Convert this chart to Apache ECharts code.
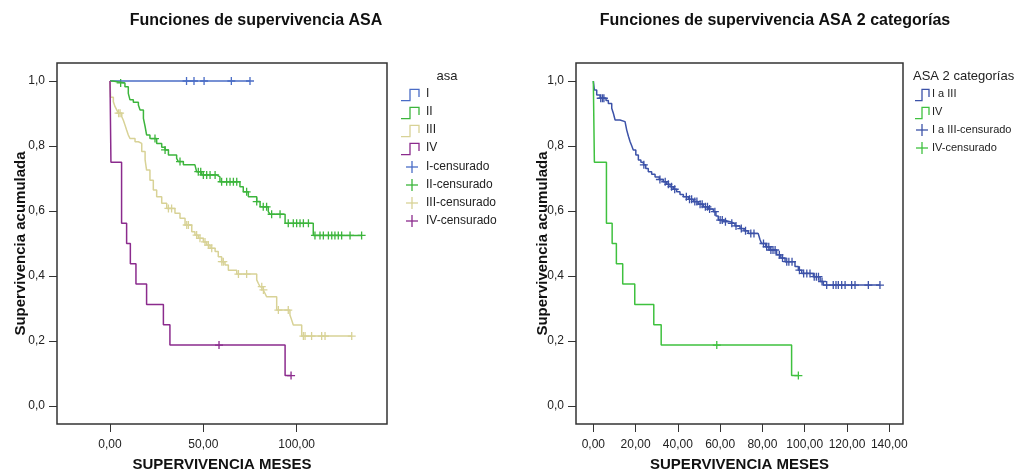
<!DOCTYPE html>
<html lang="es">
<head>
  <meta charset="UTF-8">
  <title>Funciones de supervivencia ASA</title>
  <script src="https://cdn.jsdelivr.net/npm/echarts@6/dist/echarts.min.js"></script>
  <style>
    html, body { margin: 0; padding: 0; overflow: hidden; background: #fff; }
    #app { position: absolute; left: 0; top: 0; width: 1019px; height: 469px; }
  </style>
</head>
<body>
  <div id="app"></div>
  <script>
    // curvas Kaplan-Meier: [meses, supervivencia acumulada] tras cada evento
    var asaI = [[0, 1]]
    var asaICens = [41, 45, 50.4, 65, 75]

    var asaII = [[0, 1], [1.4, 0.994], [8.0, 0.982], [9.8, 0.962], [10.7, 0.942], [12.5, 0.935], [15.2, 0.926],
      [16.1, 0.911], [17.9, 0.885], [18.8, 0.860], [19.6, 0.834], [21.4, 0.823], [25.0, 0.808], [27.7, 0.796],
      [29.5, 0.788], [31.3, 0.772], [35.7, 0.762], [36.6, 0.752], [39.3, 0.742], [45.5, 0.736], [46.4, 0.721],
      [49.1, 0.711], [57.1, 0.705], [58.9, 0.690], [69.6, 0.675], [71.4, 0.659], [74.1, 0.644], [78.6, 0.629],
      [80.4, 0.613], [84.8, 0.598], [85.7, 0.590], [93.8, 0.562], [108.9, 0.525]]
    var asaIICens = [5.7, 24.1, 29.5, 37.5, 47.3, 48.6, 50, 51.8, 53.6, 56.3, 59.8, 62.5, 64.3, 66.1, 67.9, 73.2,
      78.6, 82.1, 83.9, 86.6, 91.1, 95.5, 98.2, 100, 101.8, 103.6, 106.3, 109.8, 112.5, 114.3, 117, 118.8, 120.5,
      122.3, 124.1, 128.6, 134.8]

    var asaIII = [[0, 1], [0.3, 0.95], [1.8, 0.936], [2.7, 0.921], [3.6, 0.911], [4.5, 0.901], [6.3, 0.890],
      [7.1, 0.880], [8.0, 0.865], [8.9, 0.849], [9.8, 0.834], [10.7, 0.823], [13.4, 0.813], [15.2, 0.808],
      [17.0, 0.783], [18.8, 0.757], [19.6, 0.726], [21.4, 0.695], [23.2, 0.665], [25.0, 0.644], [27.7, 0.624],
      [30.4, 0.608], [34.8, 0.593], [37.5, 0.578], [40.2, 0.557], [43.8, 0.536], [45.5, 0.526], [47.3, 0.516],
      [50.0, 0.505], [51.8, 0.495], [53.6, 0.485], [56.3, 0.475], [58.0, 0.459], [59.8, 0.444], [61.6, 0.434],
      [63.4, 0.418], [67.9, 0.406], [78.6, 0.388], [79.5, 0.377], [80.4, 0.367], [82.1, 0.357], [83.0, 0.347],
      [83.9, 0.336], [89.3, 0.295], [96.4, 0.280], [97.3, 0.265], [98.2, 0.249], [102.7, 0.215]]
    var asaIIICens = [4.6, 5.4, 31.3, 33, 41.1, 42, 46.4, 48.2, 50.9, 52.7, 54.5, 59.9, 60.7, 68.8, 73.2, 81.3,
      82.2, 90.2, 95.5, 103.6, 104.5, 108, 113.4, 115.2, 129.5]

    var asaIV = [[0, 1], [0.5, 0.75], [6.2, 0.5625], [8.9, 0.5], [10.9, 0.4375], [13.9, 0.375], [19.6, 0.3125],
      [28.6, 0.25], [32.1, 0.1875], [93.8, 0.09375]]
    var asaIVCens = [58.4, 97]

    // ASA 2 categorias: I a III
    var asaIaIII = [[0, 1], [0.5, 0.972], [1.6, 0.957], [3.2, 0.947], [6, 0.940], [7.1, 0.931], [8.7, 0.916],
      [9.5, 0.900], [10.3, 0.880], [12.6, 0.875], [15.0, 0.870], [15.8, 0.849], [16.6, 0.830], [17.4, 0.813],
      [18.2, 0.800], [18.9, 0.788], [20.1, 0.772], [21.3, 0.757], [22.5, 0.750], [23.7, 0.742], [24.8, 0.731],
      [26.0, 0.721], [27.6, 0.713], [29.2, 0.705], [31.2, 0.697], [33.1, 0.690], [34.7, 0.682], [36.3, 0.675],
      [37.8, 0.667], [39.4, 0.659], [41.0, 0.651], [42.6, 0.644], [45.0, 0.636], [47.3, 0.629], [49.6, 0.621],
      [52.0, 0.613], [54.4, 0.606], [56.8, 0.598], [58.0, 0.585], [59.1, 0.572], [62.0, 0.567], [64.7, 0.562],
      [67.0, 0.554], [69.4, 0.546], [71.3, 0.539], [73.3, 0.531], [78.0, 0.526], [78.8, 0.513], [79.6, 0.500],
      [81.6, 0.490], [83.6, 0.480], [86.7, 0.465], [88.7, 0.455], [90.7, 0.444], [95.4, 0.429], [97.0, 0.418],
      [98.6, 0.408], [104.1, 0.398], [107.3, 0.383], [108.8, 0.372]]
    var asaIaIIICens = [3.5, 4.3, 5.0, 23.9, 31.5, 34, 35.5, 37, 38.5, 44, 45.5, 46.5, 48, 49, 50.5, 51.5, 53, 54,
      55, 57.5, 60, 61, 62.5, 65.5, 67.5, 70, 72, 74.5, 76, 80.5, 82, 83, 84, 85, 86, 88, 89.5, 91.5, 92.5, 94,
      97.5, 99.5, 101, 102.5, 104.5, 105.5, 106.5, 108.2, 110.4, 113.5, 114.8, 115.9, 117.5, 119.1, 122.2, 123.8,
      130.1, 135.6]

    var yTicks = [0, 0.2, 0.4, 0.6, 0.8, 1.0]
    var xTicksA = [0, 50, 100]
    var xTicksB = [0, 20, 40, 60, 80, 100, 120, 140]

    var legendA = ['I', 'II', 'III', 'IV', 'I-censurado', 'II-censurado', 'III-censurado', 'IV-censurado']
    var legendB = ['I a III', 'IV', 'I a III-censurado', 'IV-censurado']

    var colI = '#4a6cc6', colII = '#3cb53c', colIII = '#d8d296', colIV = '#8b2b8d'
    var colIaIII = '#3c52a8', colIVb = '#3fc13f'
    var font = 'Liberation Sans, Arial, sans-serif'

    function stepLine(ev, cens) {
      var pts = ev.slice()
      var last = ev[ev.length - 1]
      var tEnd = Math.max(last[0], cens.length ? cens[cens.length - 1] : 0)
      pts.push([tEnd, last[1]])
      return pts
    }
    function survAt(ev, t) {
      var s = 1
      for (var i = 0; i < ev.length; i++) {
        if (ev[i][0] <= t) s = ev[i][1]
      }
      return s
    }
    function censPts(ev, cens) {
      return cens.map(function (t) { return [t, survAt(ev, t)] })
    }

    var plus = 'path://M0,5L10,5M5,0L5,10'
    function lineS(ev, cens, col, idx) {
      return {
        type: 'line', step: 'end', xAxisIndex: idx, yAxisIndex: idx, showSymbol: false, silent: true,
        data: stepLine(ev, cens), lineStyle: { color: col, width: 1.5 }, itemStyle: { color: col }
      }
    }
    function censS(ev, cens, col, idx) {
      return {
        type: 'scatter', xAxisIndex: idx, yAxisIndex: idx, symbol: plus, symbolSize: 8, silent: true,
        data: censPts(ev, cens),
        itemStyle: { color: 'rgba(0,0,0,0)', borderColor: col, borderWidth: 1.3, opacity: 1 }
      }
    }

    function fmtY(v) { return v.toFixed(1).replace('.', ',') }
    function fmtX(v) { return v.toFixed(2).replace('.', ',') }

    function xAx(idx, min, max, ticks) {
      return {
        type: 'value', gridIndex: idx, min: min, max: max,
        name: 'SUPERVIVENCIA MESES', nameLocation: 'middle', nameGap: 33, nameMoveOverlap: false,
        nameTextStyle: { fontFamily: font, fontWeight: 'bold', fontSize: 15, color: '#111' },
        splitLine: { show: false },
        axisLine: { show: false, onZero: false },
        axisTick: { show: true, length: 8, customValues: ticks, lineStyle: { color: '#333' } },
        axisLabel: { customValues: ticks, formatter: fmtX, margin: 15, fontFamily: font, fontSize: 12, color: '#222' }
      }
    }
    function yAx(idx, gap) {
      return {
        type: 'value', gridIndex: idx, min: -0.0554, max: 1.0554,
        name: 'Supervivencia acumulada', nameLocation: 'middle', nameGap: gap, nameMoveOverlap: false,
        nameTextStyle: { fontFamily: font, fontWeight: 'bold', fontSize: 15, color: '#111' },
        splitLine: { show: false },
        axisLine: { show: false, onZero: false },
        axisTick: { show: true, length: 8, customValues: yTicks, lineStyle: { color: '#333' } },
        axisLabel: { customValues: yTicks, formatter: fmtY, margin: 12, fontFamily: font, fontSize: 12, color: '#222' }
      }
    }

    // leyendas dibujadas a mano (icono escalon y cruz de censura)
    function stepIcon(x, y, w, col) {
      return {
        type: 'polyline',
        shape: { points: [[x, y + 6.7], [x + w / 2, y + 6.7], [x + w / 2, y - 4.7], [x + w, y - 4.7], [x + w, y + 3]] },
        style: { stroke: col, lineWidth: 1.3, fill: null }
      }
    }
    function plusIcon(cx, cy, r, col) {
      return [
        { type: 'line', shape: { x1: cx - r, y1: cy, x2: cx + r, y2: cy }, style: { stroke: col, lineWidth: 1.3 } },
        { type: 'line', shape: { x1: cx, y1: cy - r, x2: cx, y2: cy + r }, style: { stroke: col, lineWidth: 1.3 } }
      ]
    }
    function label(x, y, txt, size) {
      return {
        type: 'text', x: x, y: y,
        style: { text: txt, fontFamily: font, fontSize: size, fill: '#222', align: 'left', verticalAlign: 'middle' }
      }
    }

    var graphics = []
    graphics.push({
      type: 'text', x: 447, y: 76,
      style: { text: 'asa', fontFamily: font, fontSize: 13, fill: '#222', align: 'center', verticalAlign: 'middle' }
    })
    var colsA = [colI, colII, colIII, colIV]
    var rowsA = [94, 112, 130, 148, 167, 185, 203, 221]
    for (var i = 0; i < legendA.length; i++) {
      var c = colsA[i % 4]
      if (i < 4) graphics.push(stepIcon(401, rowsA[i], 18, c))
      else graphics = graphics.concat(plusIcon(412, rowsA[i], 6, c))
      graphics.push(label(426, rowsA[i], legendA[i], 12))
    }
    graphics.push({
      type: 'text', x: 913, y: 76,
      style: { text: 'ASA 2 categorías', fontFamily: font, fontSize: 13, fill: '#222', align: 'left', verticalAlign: 'middle' }
    })
    var colsB = [colIaIII, colIVb]
    var rowsB = [94, 112, 130, 148]
    for (var j = 0; j < legendB.length; j++) {
      var cb = colsB[j % 2]
      if (j < 2) graphics.push(stepIcon(915, rowsB[j], 14, cb))
      else graphics = graphics.concat(plusIcon(922, rowsB[j], 6, cb))
      graphics.push(label(932, rowsB[j], legendB[j], 11))
    }

    var app = document.querySelector('#app')
    var mCharts = echarts.init(app, null, { renderer: 'canvas', width: 1019, height: 469 })
    var option = {
      animation: false,
      backgroundColor: '#fff',
      title: [
        { text: 'Funciones de supervivencia ASA', left: 256, top: 13, padding: 0, textAlign: 'center',
          textStyle: { fontFamily: font, fontWeight: 'bold', fontSize: 16, color: '#111' } },
        { text: 'Funciones de supervivencia ASA 2 categorías', left: 775, top: 13, padding: 0, textAlign: 'center',
          textStyle: { fontFamily: font, fontWeight: 'bold', fontSize: 16, color: '#111' } }
      ],
      grid: [
        { left: 57, top: 63, width: 330, height: 361, show: true, borderColor: '#333', borderWidth: 1.5,
          outerBoundsMode: 'none', containLabel: false },
        { left: 576, top: 63, width: 327, height: 361, show: true, borderColor: '#333', borderWidth: 1.5,
          outerBoundsMode: 'none', containLabel: false }
      ],
      xAxis: [xAx(0, -28.4, 148.4, xTicksA), xAx(1, -8.2, 146.5, xTicksB)],
      yAxis: [yAx(0, 29), yAx(1, 26)],
      graphic: graphics,
      series: [
        lineS(asaI, asaICens, colI, 0), censS(asaI, asaICens, colI, 0),
        lineS(asaII, asaIICens, colII, 0), censS(asaII, asaIICens, colII, 0),
        lineS(asaIII, asaIIICens, colIII, 0), censS(asaIII, asaIIICens, colIII, 0),
        lineS(asaIV, asaIVCens, colIV, 0), censS(asaIV, asaIVCens, colIV, 0),
        lineS(asaIaIII, asaIaIIICens, colIaIII, 1), censS(asaIaIII, asaIaIIICens, colIaIII, 1),
        lineS(asaIV, asaIVCens, colIVb, 1), censS(asaIV, asaIVCens, colIVb, 1)
      ]
    }
    mCharts.setOption(option)
  </script>
</body>
</html>
